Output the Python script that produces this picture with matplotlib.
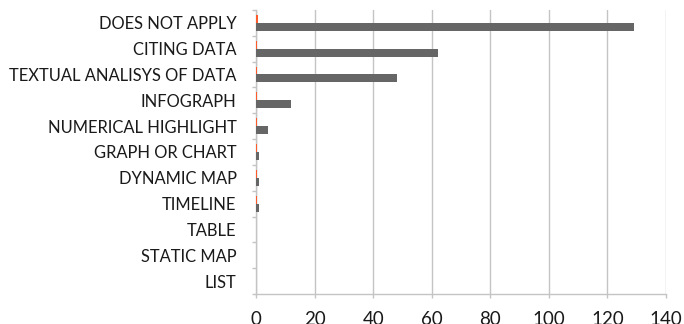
import matplotlib
matplotlib.use("Agg")
import matplotlib.pyplot as plt
import numpy as np

categories = ["DOES NOT APPLY", "CITING DATA", "TEXTUAL ANALISYS OF DATA", "INFOGRAPH",
              "NUMERICAL HIGHLIGHT", "GRAPH OR CHART", "DYNAMIC MAP", "TIMELINE",
              "TABLE", "STATIC MAP", "LIST"]
counts = [129, 62, 48, 12, 4, 1, 1, 1, 0, 0, 0]
shares = [0.7, 0.35, 0.35, 0.35, 0.35, 0.35, 0.35, 0.35, 0, 0, 0]
x_ticks = [0, 20, 40, 60, 80, 100, 120, 140]

plt.rcParams['font.family'] = ['Lato', 'DejaVu Sans']

fig = plt.figure(figsize=(6.84, 3.24), dpi=100)
ax = fig.add_axes([256 / 684, 30 / 324, 410 / 684, 284 / 324])

n = len(categories)
y = np.arange(n)
h = 0.31
ax.barh(y - 0.15, shares, height=h, color="#FF5B2B", zorder=3)
ax.barh(y + 0.15, counts, height=h, color="#666666", zorder=3)

ax.set_xlim(0, 140)
ax.set_ylim(n - 0.5, -0.5)
ax.set_xticks(x_ticks)
ax.set_xticklabels([str(v) for v in x_ticks], fontsize=13.5)
ax.xaxis.grid(True, color="#C4C4C4", linewidth=1.0, zorder=0)

ax.set_yticks(np.arange(-0.5, n, 1.0))
ax.set_yticklabels([])
ax.set_yticks(y, minor=True)
ax.set_yticklabels(categories, minor=True, fontsize=11.9, color="#1a1a1a")
ax.tick_params(axis="y", which="major", length=3, color="#C4C4C4", width=1)
ax.tick_params(axis="y", which="minor", length=0, pad=14)
ax.tick_params(axis="x", length=3, color="#C4C4C4", width=1, pad=9, labelcolor="#1a1a1a")

for s in ["top", "right"]:
    ax.spines[s].set_visible(False)
for s in ["left", "bottom"]:
    ax.spines[s].set_color("#C4C4C4")
    ax.spines[s].set_linewidth(1.0)

fig.savefig("out.png", dpi=100)
